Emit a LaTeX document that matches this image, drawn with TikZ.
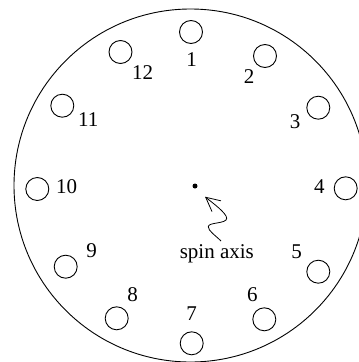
\documentclass[tikz,border=0pt]{standalone}
\usepackage{fontspec}
\setmainfont{Liberation Serif}
\usetikzlibrary{arrows.meta}
\begin{document}
\begin{tikzpicture}[x=1pt,y=-1pt,
  hole/.style={draw,line width=0.9pt,circle,minimum size=23pt,inner sep=0pt},
  lbl/.style={inner sep=0pt,font=\fontsize{21}{25}\selectfont},
  arr/.style={line width=0.8pt,-{Straight Barb[length=14pt,width=14pt]}}]
\useasboundingbox (0,0) rectangle (359,362);
\clip (0,0) rectangle (359,362);
\draw[line width=0.9pt] (190.5,185.5) circle[radius=176.5];
\node[hole] (c1) at (191,32) {};
\node[hole] (c2) at (265,56) {};
\node[hole] (c3) at (318.3,107.7) {};
\node[hole] (c4) at (345.7,188.3) {};
\node[hole] (c5) at (318.3,271.7) {};
\node[hole] (c6) at (264.3,319.3) {};
\node[hole] (c7) at (191.7,343.3) {};
\node[hole] (c8) at (116.7,318.3) {};
\node[hole] (c9) at (65.7,266.7) {};
\node[hole] (c10) at (37.3,189) {};
\node[hole] (c11) at (62.3,105.7) {};
\node[hole] (c12) at (120.5,52) {};
\node[lbl] (l1) at (191.7,59.3) {1};
\node[lbl] (l2) at (249,76.7) {2};
\node[lbl] (l3) at (295,121.7) {3};
\node[lbl] (l4) at (319.3,186.7) {4};
\node[lbl] (l5) at (296.7,251.7) {5};
\node[lbl] (l6) at (252.3,295) {6};
\node[lbl] (l7) at (191.7,313.3) {7};
\node[lbl] (l8) at (132.7,294.3) {8};
\node[lbl] (l9) at (91.7,250.7) {9};
\node[lbl] (l10) at (66.7,186.7) {10};
\node[lbl] (l11) at (88.3,120) {11};
\node[lbl] (l12) at (142.7,72.7) {12};
\node[lbl,anchor=base] (spin) at (216.8,258.3) {spin axis};
\fill (195,186) circle[radius=2.5];
\coordinate (s) at (221,241);
\coordinate (t) at (205,196.7);
\draw[arr] (s) .. controls (215,235) and (208.3,231) .. (208.3,226.7)
  .. controls (208.3,222) and (226.7,224) .. (226.7,218.3)
  .. controls (226.7,213) and (212,202.5) .. (t);
\end{tikzpicture}
\end{document}
